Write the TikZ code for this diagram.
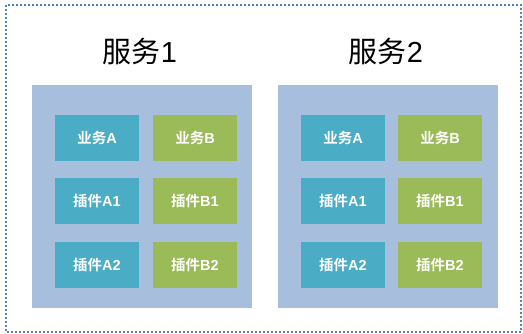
\documentclass[tikz,border=0pt]{standalone}
\usepackage{fontspec}
\newfontfamily\cjk{Noto Sans CJK SC}
\newfontfamily\cjkb{Noto Sans CJK SC Bold}
\newfontfamily\lat{Liberation Sans}
\newfontfamily\latb{Liberation Sans Bold}
\definecolor{panelc}{HTML}{A7BFDD}
\definecolor{acol}{HTML}{4BACC6}
\definecolor{bcol}{HTML}{9BBB59}
\definecolor{borderc}{HTML}{4F81BD}
\newcommand{\bx}[2]{{\cjkb #1}{\latb #2}}
\tikzset{
  panel/.style={fill=panelc, draw=none},
  abox/.style={fill=acol, draw=none, minimum width=84pt, minimum height=46pt, inner sep=0pt, text=white, font=\fontsize{14.5}{16}\selectfont},
  bbox/.style={abox, fill=bcol},
  title/.style={font=\fontsize{29}{32}\selectfont, text=black, inner sep=0pt}
}
\begin{document}
\begin{tikzpicture}[x=1pt,y=-1pt]
\useasboundingbox (0,0) rectangle (523,334);
\draw[borderc, line width=2pt, dash pattern=on 2pt off 2pt] (5.5,5.5) rectangle (521,332);
% panel 1
\node[panel, minimum width=220pt, minimum height=223pt, inner sep=0pt] (p1) at (142,196.5) {};
\node[title] (t1) at (140,51) {{\cjk 服务}{\lat 1}};
\node[abox] (a1) at (97,138) {\bx{业务}{A}};
\node[bbox] (b1) at (195,138) {\bx{业务}{B}};
\node[abox] (a11) at (97,201) {\bx{插件}{A1}};
\node[bbox] (b11) at (195,201) {\bx{插件}{B1}};
\node[abox] (a12) at (97,265) {\bx{插件}{A2}};
\node[bbox] (b12) at (195,265) {\bx{插件}{B2}};
% panel 2
\node[panel, minimum width=220pt, minimum height=223pt, inner sep=0pt] (p2) at (388,196.5) {};
\node[title] (t2) at (386,51) {{\cjk 服务}{\lat 2}};
\node[abox] (a2) at (343,138) {\bx{业务}{A}};
\node[bbox] (b2) at (440,138) {\bx{业务}{B}};
\node[abox] (a21) at (343,201) {\bx{插件}{A1}};
\node[bbox] (b21) at (440,201) {\bx{插件}{B1}};
\node[abox] (a22) at (343,265) {\bx{插件}{A2}};
\node[bbox] (b22) at (440,265) {\bx{插件}{B2}};
\end{tikzpicture}
\end{document}
